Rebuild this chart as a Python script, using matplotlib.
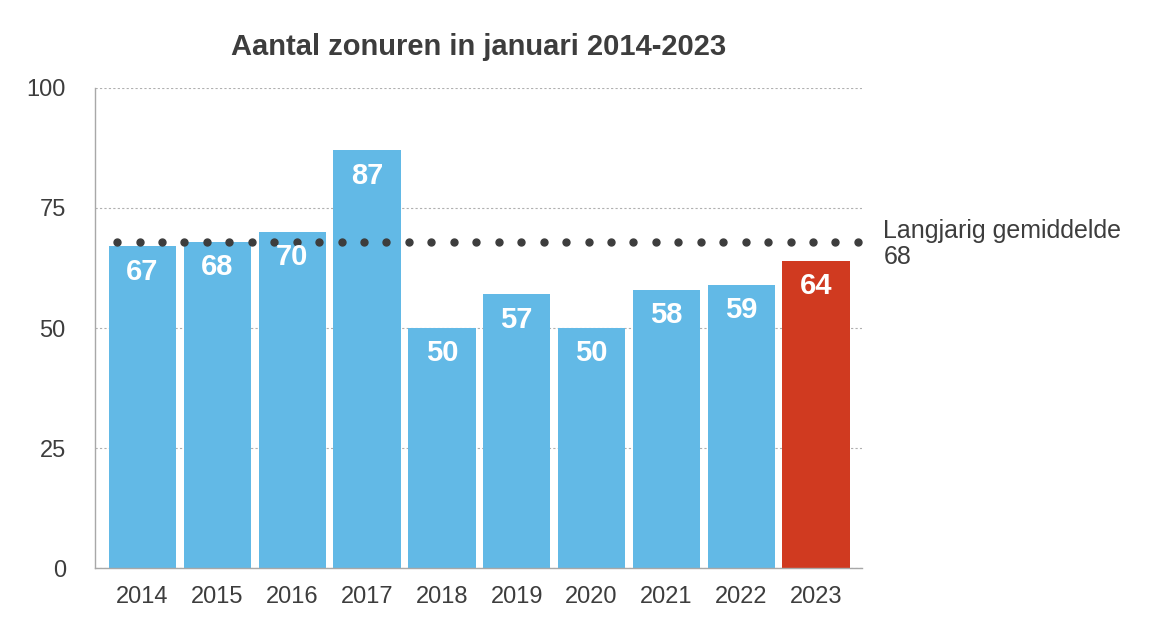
import matplotlib.pyplot as plt
import numpy as np

plt.rcParams['font.family'] = ['Liberation Sans', 'DejaVu Sans']

years = ['2014', '2015', '2016', '2017', '2018', '2019', '2020', '2021', '2022', '2023']
hours = [67, 68, 70, 87, 50, 57, 50, 58, 59, 64]
average = 68

blue = '#62b9e6'
red = '#d03a20'
txt = '#3d3d3d'

fig = plt.figure(figsize=(11.56, 6.28), dpi=100)
ax = fig.add_axes([0.0822, 0.0955, 0.6635, 0.7644])

x = np.arange(len(years))
colors = [blue] * (len(years) - 1) + [red]
ax.bar(x, hours, width=0.9, color=colors, zorder=2)

for xi, h in zip(x, hours):
    ax.text(xi, h - 5.3, str(h), ha='center', va='center', color='white',
            fontsize=21, fontweight='bold', zorder=4)

# long-term average as a row of dots
dots = np.arange(-0.34, 9.62, 0.3)
ax.plot(dots, [average] * len(dots), linestyle='none', marker='o', markersize=5,
        color='#3d3d3d', zorder=3, clip_on=False)
ax.text(9.9, average - 0.5, 'Langjarig gemiddelde\n' + str(average), ha='left', va='center',
        color=txt, fontsize=18, linespacing=1.1)

ax.set_xlim(-0.635, 9.615)
ax.set_ylim(0, 100)
ax.set_yticks([0, 25, 50, 75, 100])
ax.set_xticks(x)
ax.set_xticklabels(years)
ax.tick_params(axis='both', length=0, labelsize=17, colors=txt)
ax.tick_params(axis='y', pad=21)
ax.tick_params(axis='x', pad=13)
ax.grid(axis='y', linestyle=(0, (2, 2)), color='#b0b0b0', linewidth=0.8, zorder=0)

for s in ['top', 'right']:
    ax.spines[s].set_visible(False)
for s in ['left', 'bottom']:
    ax.spines[s].set_color('#a8a8a8')
    ax.spines[s].set_linewidth(1)

ax.set_title('Aantal zonuren in januari 2014-2023', fontsize=21, fontweight='bold',
             color=txt, pad=24)

fig.savefig('out.png', dpi=100)
